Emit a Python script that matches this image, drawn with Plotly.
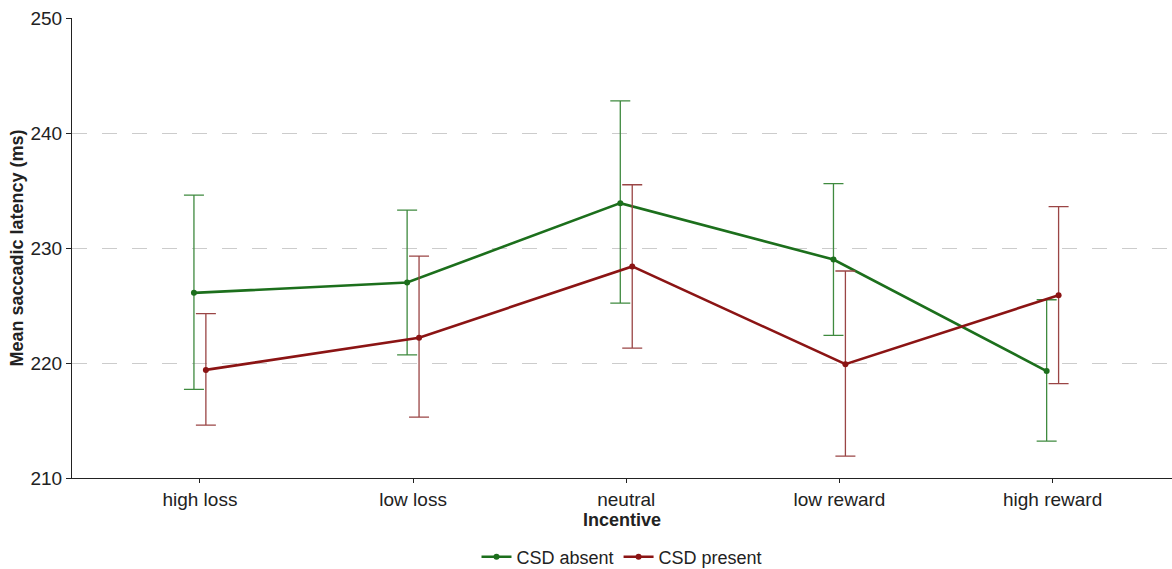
import plotly.graph_objects as go

# Incentive conditions and mean saccadic latencies (ms) with error bounds
incentives = ["high loss", "low loss", "neutral", "low reward", "high reward"]

absent_mean = [226.1, 227.0, 233.9, 229.0, 219.3]
absent_upper = [234.6, 233.3, 242.8, 235.6, 225.5]
absent_lower = [217.7, 220.7, 225.2, 222.4, 213.2]

present_mean = [219.4, 222.2, 228.4, 219.9, 225.9]
present_upper = [224.3, 229.3, 235.5, 228.0, 233.6]
present_lower = [214.6, 215.3, 221.3, 211.9, 218.2]

dodge = 0.028
green, green_err = "#1c6f1c", "#3f8a3f"
red, red_err = "#8b1414", "#9a4545"

fig = go.Figure()


def add_series(name, means, upper, lower, shift, color, err_color):
    xs = [i + shift for i in range(len(incentives))]
    fig.add_trace(go.Scatter(
        x=xs, y=means, name=name, mode="lines+markers",
        line=dict(color=color, width=2.6),
        marker=dict(color=color, size=6),
        error_y=dict(
            type="data", symmetric=False,
            array=[u - m for u, m in zip(upper, means)],
            arrayminus=[m - l for m, l in zip(means, lower)],
            color=err_color, thickness=1.3, width=10,
        ),
    ))


add_series("CSD absent", absent_mean, absent_upper, absent_lower, -dodge, green, green_err)
add_series("CSD present", present_mean, present_upper, present_lower, dodge, red, red_err)

fig.update_layout(
    width=1172, height=569,
    margin=dict(l=72, r=0, t=18, b=91, autoexpand=False),
    plot_bgcolor="white", paper_bgcolor="white",
    font=dict(family="Liberation Sans, Arial, sans-serif", size=19, color="#222222"),
    showlegend=True,
    legend=dict(
        orientation="h", x=0.5, xanchor="center", y=0.021, yanchor="middle",
        yref="container", font=dict(size=18), itemwidth=30,
    ),
)

fig.update_xaxes(
    range=[-0.6, 4.56],
    tickmode="array", tickvals=list(range(len(incentives))), ticktext=incentives,
    showline=True, linecolor="#222222", linewidth=1.2,
    ticks="outside", ticklen=4, tickcolor="#222222",
    showgrid=False, zeroline=False, automargin=False,
    title=dict(text="<b>Incentive</b>", standoff=0, font=dict(size=18)),
)

fig.update_yaxes(
    range=[210, 250],
    tickvals=[210, 220, 230, 240, 250],
    showline=True, linecolor="#222222", linewidth=1.2,
    ticks="outside", ticklen=5, tickcolor="#222222",
    showgrid=True, gridcolor="#cccccc", griddash="longdash", gridwidth=1.3,
    zeroline=False, automargin=False,
    title=dict(text="<b>Mean saccadic latency (ms)</b>", standoff=2, font=dict(size=18)),
)

fig.write_html("out.html")
